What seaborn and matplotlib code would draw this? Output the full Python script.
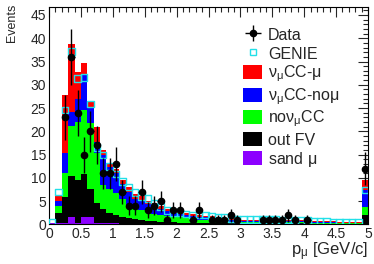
import numpy as np
import pandas as pd
import matplotlib
matplotlib.use("Agg")
import matplotlib.pyplot as plt
from matplotlib.lines import Line2D
from matplotlib.patches import Patch, Rectangle
from matplotlib.legend_handler import HandlerPatch
import seaborn as sns

# 50 bins of 0.1 GeV/c from 0 to 5 (last bin holds the overflow)
bin_edges = [round(0.1 * i, 2) for i in range(51)]
bin_centers = np.array([round(0.1 * i + 0.05, 3) for i in range(50)])

sand_mu = [0.2, 0.4, 0.3, 1.5, 0.3, 1.5, 1.5, 0.3, 0.2, 0.2,
           0.2, 0.1, 0.1, 0.1, 0.1, 0.1, 0.1, 0.1, 0.1, 0.1,
           0.1, 0.1, 0.1, 0.1, 0.1, 0.1, 0.1, 0.1, 0.1, 0.1,
           0.1, 0.1, 0.1, 0.1, 0.1, 0.1, 0.1, 0.1, 0.1, 0.1,
           0.05, 0.05, 0.05, 0.05, 0.05, 0.05, 0.05, 0.05, 0.05, 0.1]
out_fv = [0.2, 2.1, 5.5, 9.0, 9.2, 9.3, 6.1, 4.2, 3.2, 2.3,
          1.8, 1.5, 1.2, 1.0, 0.8, 0.7, 0.6, 0.5, 0.4, 0.4,
          0.3, 0.3, 0.3, 0.2, 0.2, 0.2, 0.2, 0.2, 0.1, 0.1,
          0.1, 0.1, 0.1, 0.1, 0.1, 0.1, 0.1, 0.1, 0.1, 0.1,
          0.1, 0.1, 0.1, 0.1, 0.1, 0.05, 0.05, 0.05, 0.05, 1.9]
no_numu_cc = [0.0, 1.5, 5.2, 10.7, 12.5, 13.8, 14.1, 10.8, 5.1, 5.0,
              4.7, 3.8, 2.7, 2.3, 2.1, 1.8, 1.6, 1.4, 1.3, 1.1,
              1.1, 0.9, 0.8, 0.7, 0.6, 0.5, 0.4, 0.4, 0.4, 0.4,
              0.3, 0.3, 0.3, 0.3, 0.3, 0.25, 0.25, 0.25, 0.25, 0.25,
              0.2, 0.2, 0.2, 0.2, 0.2, 0.15, 0.15, 0.15, 0.15, 1.8]
numu_cc_nomu = [0.0, 1.0, 4.3, 3.0, 5.0, 7.4, 3.6, 2.5, 6.5, 4.9,
                4.3, 3.2, 3.0, 2.1, 2.0, 1.7, 1.5, 1.3, 1.0, 0.9,
                0.7, 0.7, 0.6, 0.6, 0.6, 0.5, 0.5, 0.4, 0.4, 0.4,
                0.3, 0.3, 0.3, 0.3, 0.3, 0.25, 0.25, 0.25, 0.25, 0.25,
                0.2, 0.2, 0.2, 0.2, 0.2, 0.15, 0.15, 0.15, 0.15, 3.6]
numu_cc_mu = [0.0, 1.3, 12.4, 14.6, 5.8, 2.6, 1.3, 3.2, 1.0, 0.8,
              1.0, 1.0, 1.0, 1.1, 1.0, 0.7, 0.7, 0.7, 0.6, 0.5,
              0.6, 0.5, 0.4, 0.4, 0.4, 0.4, 0.3, 0.3, 0.3, 0.2,
              0.2, 0.2, 0.2, 0.2, 0.2, 0.15, 0.15, 0.15, 0.15, 0.15,
              0.15, 0.15, 0.15, 0.15, 0.15, 0.1, 0.1, 0.1, 0.1, 2.1]

genie = [0.5, 7.0, 24.6, 37.1, 31.4, 31.6, 25.9, 16.5, 14.9, 12.4,
         10.8, 9.2, 8.0, 6.8, 6.0, 5.6, 4.6, 3.8, 3.0, 2.6,
         2.4, 2.2, 2.0, 2.0, 2.0, 1.8, 1.6, 1.5, 1.3, 1.2,
         1.1, 1.0, 1.0, 1.0, 1.0, 1.0, 0.9, 0.9, 0.9, 0.8,
         0.8, 0.7, 0.6, 0.6, 0.5, 0.5, 0.4, 0.4, 0.4, 7.4]

data = [0, 0, 23, 36, 24, 15, 20, 17, 11, 11,
        13, 7, 4, 4, 7, 3, 4, 5, 1, 3,
        3, 0, 1, 3, 0, 1, 1, 1, 2, 1,
        0, 0, 0, 1, 1, 1, 1, 2, 1, 0,
        1, 0, 0, 0, 0, 0, 0, 0, 0, 12]

labels = [r"$\nu_{\mu}$CC-$\mu$", r"$\nu_{\mu}$CC-no$\mu$", r"no$\nu_{\mu}$CC", "out FV", r"sand $\mu$"]
colors = ["#ff0000", "#0000ff", "#00ff00", "#000000", "#8c00ff"]
components = [numu_cc_mu, numu_cc_nomu, no_numu_cc, out_fv, sand_mu]

rows = []
for lab, vals in zip(labels, components):
    for c, v in zip(bin_centers, vals):
        rows.append({"p": c, "n": v, "comp": lab})
df = pd.DataFrame(rows)

sns.set_theme(style="white")
plt.rcParams["font.family"] = ["Liberation Sans", "DejaVu Sans"]
plt.rcParams["mathtext.fontset"] = "custom"
plt.rcParams["mathtext.rm"] = "Liberation Sans"
plt.rcParams["mathtext.it"] = "Liberation Sans"
plt.rcParams["mathtext.default"] = "regular"

fig = plt.figure(figsize=(3.74, 2.64), dpi=100)
ax = fig.add_axes([0.131, 0.150, 0.853, 0.825])

# seaborn stacks the first hue level on top
sns.histplot(data=df, x="p", weights="n", hue="comp", hue_order=labels,
             palette=dict(zip(labels, colors)), multiple="stack", bins=bin_edges,
             element="bars", linewidth=0, alpha=1, legend=False, ax=ax)

sns.scatterplot(x=bin_centers, y=genie, marker="s", s=22, facecolors="none",
                edgecolor="#22e0e8", linewidth=1.0, ax=ax, zorder=4)

d = np.array(data, dtype=float)
mask = d > 0
eb = ax.errorbar(bin_centers[mask], d[mask], yerr=np.sqrt(d[mask]), xerr=0.05,
                 fmt="o", color="black", ms=4.5, elinewidth=1.0, capsize=0, zorder=5)

ax.set_xlim(0, 5)
ax.set_ylim(0, 46.8)
ax.set_xlabel("")
ax.set_ylabel("")
ax.set_xticks(np.arange(0, 5.01, 0.5))
ax.set_xticklabels(["0", "0.5", "1", "1.5", "2", "2.5", "3", "3.5", "4", "4.5", "5"])
ax.set_xticks(np.arange(0, 5.01, 0.1), minor=True)
ax.set_yticks(np.arange(0, 46, 5))
ax.set_yticks(np.arange(0, 47, 1), minor=True)
ax.tick_params(which="both", direction="in", top=True, right=True, labelsize=10, pad=2, width=0.8)
ax.tick_params(which="major", length=7)
ax.tick_params(which="minor", length=3.5)
for sp in ax.spines.values():
    sp.set_linewidth(0.8)
    sp.set_color("black")

fig.text(0.984, 0.004, r"p$_{\mu}$ [GeV/c]", ha="right", va="bottom", fontsize=12)
fig.text(0.032, 0.985, "Events", rotation=90, ha="center", va="top", fontsize=9)


def small_box(legend, orig_handle, xdescent, ydescent, width, height, fontsize):
    h = 10.0
    return Rectangle((-xdescent, -ydescent + (height - h) / 2), width, h)


handles = [eb, Line2D([], [], marker="s", ls="none", mfc="none", mec="#22e0e8", ms=4.5, mew=1.0)]
handles += [Patch(facecolor=c, edgecolor="none") for c in colors]
leg = fig.legend(handles, ["Data", "GENIE"] + labels, loc="upper left",
                 bbox_to_anchor=(0.65, 0.903), frameon=False, fontsize=11.5,
                 handlelength=1.2, handleheight=1.3, handletextpad=0.35,
                 labelspacing=0.1, borderpad=0, borderaxespad=0,
                 handler_map={Patch: HandlerPatch(patch_func=small_box)})

fig.savefig("out.png", dpi=100)
